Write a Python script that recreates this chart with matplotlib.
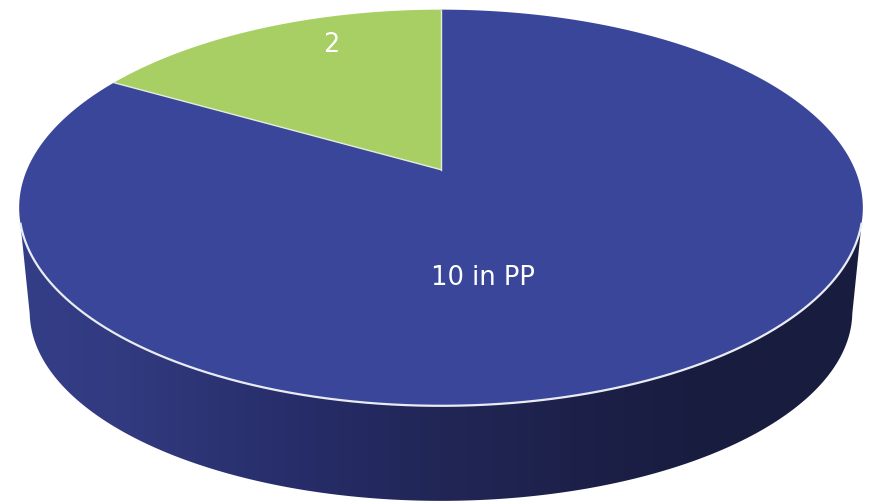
import numpy as np
import matplotlib
matplotlib.use("Agg")
import matplotlib.pyplot as plt
from matplotlib.colors import LinearSegmentedColormap
from matplotlib.patches import Polygon

values = [10, 2]
labels = ["10 in PP", "2"]
colors = ["#3A4699", "#A8CF63"]
side_stops = [0.0, 0.12, 0.33, 0.5, 0.68, 0.82, 1.0]
side_colors = ["#343E88", "#323B80", "#272D69", "#212656", "#1C2048", "#181C3E", "#181C3E"]

CX, CY = 441.0, 170.7   # where the slices meet on the tilted top
R = 414.0
A, C = -158.0, 0.192    # perspective terms for the vertical axis


def project(theta):
    """Point on the pie top, theta clockwise from 12 o'clock."""
    u, v = np.sin(theta), np.cos(theta)
    w = 1 + C * v
    return CX + R * u / w, (A * v + CY) / w


def bottom_edge(theta):
    """Bottom rim is the top one pulled in and moved down."""
    x, y = project(theta)
    return CX + (x - CX) * 0.975, 312 + (y - 208) * 0.955


def wedge_xy(start, end):
    t = np.linspace(start, end, 300)
    x, y = project(t)
    return np.column_stack([np.r_[CX, x], np.r_[CY, y]])


fig = plt.figure(figsize=(8.71, 5.02), dpi=100)
ax = fig.add_axes([0, 0, 1, 1])
ax.set_xlim(0, 871)
ax.set_ylim(502, 0)
ax.axis("off")

# side wall with left-to-right shading, clipped to the outline
t_front = np.linspace(np.pi * 0.585, np.pi * 1.415, 400)
t_low = np.linspace(np.pi * 0.565, np.pi * 1.435, 400)
bx, by = bottom_edge(t_low)
tx, ty = project(t_front[::-1])
side = Polygon(np.column_stack([np.r_[bx, tx], np.r_[by, ty]]), closed=True,
               facecolor="none", edgecolor="none")
ax.add_patch(side)
cmap = LinearSegmentedColormap.from_list("side", list(zip(side_stops, side_colors)))
grad = np.linspace(0, 1, 512).reshape(1, -1)
im = ax.imshow(grad, extent=(15, 866, 502, 200), cmap=cmap, aspect="auto", zorder=1)
im.set_clip_path(side)
ax.set_xlim(0, 871)
ax.set_ylim(502, 0)

# slices on the top, clockwise from 12 o'clock
edges = 2 * np.pi * np.r_[0, np.cumsum(values)] / sum(values)
for i in range(len(values)):
    ax.add_patch(Polygon(wedge_xy(edges[i], edges[i + 1]), closed=True,
                         facecolor=colors[i], edgecolor="none", zorder=2))

# thin light lines: front rim and the green slice's straight edges
rx, ry = project(t_front)
ax.plot(rx, ry, color="#E9ECF2", lw=1.6, zorder=3, solid_capstyle="butt")
for angle in (edges[1], edges[2]):
    ex, ey = project(angle)
    ax.plot([CX, ex], [CY, ey], color="#E4EBDC", lw=1.0, zorder=3)

ax.text(483, 278, labels[0], color="white", fontsize=18.5, ha="center", va="center",
        family="DejaVu Sans", zorder=4)
ax.text(331, 45, labels[1], color="white", fontsize=18.5, ha="center", va="center",
        family="DejaVu Sans", zorder=4)

fig.savefig("out.png", dpi=100, facecolor="white")
